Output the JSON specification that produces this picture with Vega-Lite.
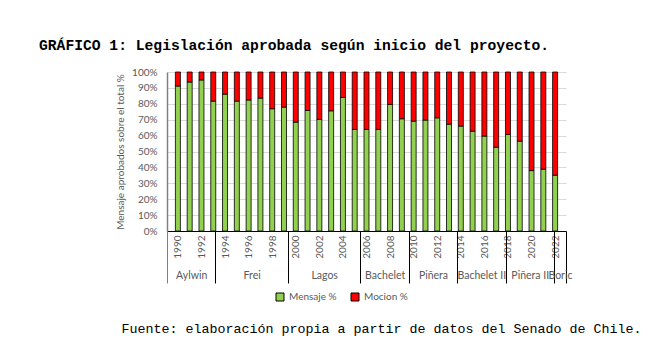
{
  "$schema": "https://vega.github.io/schema/vega-lite/v6.json",
  "width": 399,
  "height": 159,
  "autosize": {"type": "none"},
  "padding": {"left": 167, "top": 72, "right": 96, "bottom": 126},
  "background": "white",
  "config": {"view": {"stroke": null}, "font": "Lato"},
  "title": {
    "text": "GRÁFICO 1: Legislación aprobada según inicio del proyecto.",
    "anchor": "start",
    "frame": "group",
    "dx": -128,
    "font": "Liberation Mono",
    "fontSize": 14.67,
    "fontWeight": "bold",
    "color": "black",
    "offset": 14
  },
  "datasets": {
    "presidentes": [
      {"name": "Aylwin", "end": 1993.5, "mid": 1991.5},
      {"name": "Frei", "end": 1999.5, "mid": 1996.5},
      {"name": "Lagos", "end": 2005.5, "mid": 2002.5},
      {"name": "Bachelet", "end": 2009.5, "mid": 2007.5},
      {"name": "Piñera", "end": 2013.5, "mid": 2011.5},
      {"name": "Bachelet II", "end": 2017.5, "mid": 2015.5},
      {"name": "Piñera II", "end": 2021.5, "mid": 2019.5},
      {"name": "Boric", "end": 2022.5, "mid": 2022}
    ]
  },
  "layer": [
    {
      "data": {"values": [
        {"year": 1990, "Mensaje %": 91.2, "Mocion %": 8.8},
        {"year": 1991, "Mensaje %": 93.7, "Mocion %": 6.3},
        {"year": 1992, "Mensaje %": 95.0, "Mocion %": 5.0},
        {"year": 1993, "Mensaje %": 81.7, "Mocion %": 18.3},
        {"year": 1994, "Mensaje %": 86.1, "Mocion %": 13.9},
        {"year": 1995, "Mensaje %": 81.7, "Mocion %": 18.3},
        {"year": 1996, "Mensaje %": 82.4, "Mocion %": 17.6},
        {"year": 1997, "Mensaje %": 83.6, "Mocion %": 16.4},
        {"year": 1998, "Mensaje %": 76.9, "Mocion %": 23.1},
        {"year": 1999, "Mensaje %": 77.9, "Mocion %": 22.1},
        {"year": 2000, "Mensaje %": 68.5, "Mocion %": 31.5},
        {"year": 2001, "Mensaje %": 75.8, "Mocion %": 24.2},
        {"year": 2002, "Mensaje %": 70.2, "Mocion %": 29.8},
        {"year": 2003, "Mensaje %": 75.6, "Mocion %": 24.4},
        {"year": 2004, "Mensaje %": 84.0, "Mocion %": 16.0},
        {"year": 2005, "Mensaje %": 63.9, "Mocion %": 36.1},
        {"year": 2006, "Mensaje %": 63.9, "Mocion %": 36.1},
        {"year": 2007, "Mensaje %": 63.9, "Mocion %": 36.1},
        {"year": 2008, "Mensaje %": 79.6, "Mocion %": 20.4},
        {"year": 2009, "Mensaje %": 70.6, "Mocion %": 29.4},
        {"year": 2010, "Mensaje %": 69.1, "Mocion %": 30.9},
        {"year": 2011, "Mensaje %": 69.8, "Mocion %": 30.2},
        {"year": 2012, "Mensaje %": 71.2, "Mocion %": 28.8},
        {"year": 2013, "Mensaje %": 67.2, "Mocion %": 32.8},
        {"year": 2014, "Mensaje %": 66.0, "Mocion %": 34.0},
        {"year": 2015, "Mensaje %": 62.8, "Mocion %": 37.2},
        {"year": 2016, "Mensaje %": 59.7, "Mocion %": 40.3},
        {"year": 2017, "Mensaje %": 52.7, "Mocion %": 47.3},
        {"year": 2018, "Mensaje %": 60.7, "Mocion %": 39.3},
        {"year": 2019, "Mensaje %": 56.5, "Mocion %": 43.5},
        {"year": 2020, "Mensaje %": 38.0, "Mocion %": 62.0},
        {"year": 2021, "Mensaje %": 38.9, "Mocion %": 61.1},
        {"year": 2022, "Mensaje %": 35.1, "Mocion %": 64.9}
      ]},
      "transform": [{"fold": ["Mensaje %", "Mocion %"], "as": ["tipo", "pct"]}],
      "mark": {"type": "bar", "size": 5, "stroke": "black", "strokeWidth": 0.8},
      "encoding": {
        "x": {
          "field": "year", "type": "quantitative",
          "scale": {"domain": [1989.5, 2022.5], "nice": false, "zero": false},
          "axis": {
            "orient": "bottom",
            "values": [1990, 1992, 1994, 1996, 1998, 2000, 2002, 2004, 2006, 2008, 2010, 2012, 2014, 2016, 2018, 2020, 2022],
            "format": "d",
            "labelAngle": -90,
            "labelAlign": "right",
            "labelBaseline": "middle",
            "labelPadding": 4,
            "labelFont": "Lato",
            "labelFontSize": 10,
            "labelColor": "#595959",
            "labelOverlap": false,
            "labelFlush": false,
            "ticks": false,
            "grid": false,
            "domainColor": "black",
            "domainWidth": 1,
            "title": null
          }
        },
        "y": {
          "field": "pct", "type": "quantitative", "stack": "zero",
          "scale": {"domain": [0, 100], "nice": false},
          "axis": {
            "values": [0, 10, 20, 30, 40, 50, 60, 70, 80, 90, 100],
            "labelExpr": "datum.value + '%'",
            "labelFont": "Lato",
            "labelFontSize": 10,
            "labelColor": "#595959",
            "labelPadding": 10,
            "ticks": false,
            "grid": true,
            "gridColor": "#D9D9D9",
            "gridWidth": 1,
            "domainColor": "#808080",
            "domainWidth": 1.5,
            "title": "Mensaje aprobados sobre el total %",
            "titleFont": "Lato",
            "titleFontSize": 10,
            "titleFontWeight": "normal",
            "titleColor": "#595959",
            "titlePadding": 6
          }
        },
        "color": {
          "field": "tipo", "type": "nominal",
          "scale": {"domain": ["Mensaje %", "Mocion %"], "range": ["#92D050", "#FF0000"]},
          "legend": {
            "orient": "none",
            "legendX": 108,
            "legendY": 220,
            "direction": "horizontal",
            "title": null,
            "symbolType": "square",
            "symbolSize": 64,
            "symbolStrokeColor": "black",
            "symbolStrokeWidth": 1,
            "labelFont": "Lato",
            "labelFontSize": 10,
            "labelColor": "#595959",
            "columnPadding": 12
          }
        },
        "order": {"field": "tipo", "sort": "ascending"}
      }
    },
    {
      "data": {"name": "presidentes"},
      "mark": {"type": "point", "opacity": 0},
      "encoding": {
        "x": {
          "field": "end", "type": "quantitative",
          "scale": {"domain": [1989.5, 2022.5], "nice": false, "zero": false},
          "axis": {
            "orient": "bottom",
            "values": [1989.5, 1993.5, 1999.5, 2005.5, 2009.5, 2013.5, 2017.5, 2021.5, 2022.5],
            "labels": false,
            "ticks": true,
            "tickSize": 52,
            "tickWidth": 1,
            "tickColor": {"condition": {"test": "datum.value < 1990", "value": "#808080"}, "value": "black"},
            "domain": false,
            "grid": false,
            "title": null
          }
        }
      }
    },
    {
      "data": {"name": "presidentes"},
      "mark": {"type": "point", "opacity": 0},
      "encoding": {
        "x": {
          "field": "mid", "type": "quantitative",
          "scale": {"domain": [1989.5, 2022.5], "nice": false, "zero": false},
          "axis": {
            "orient": "bottom",
            "values": [1991.5, 1996.5, 2002.5, 2007.5, 2011.5, 2015.5, 2019.5, 2022],
            "labelExpr": "({'1991.5':'Aylwin','1996.5':'Frei','2002.5':'Lagos','2007.5':'Bachelet','2011.5':'Piñera','2015.5':'Bachelet II','2019.5':'Piñera II','2022':'Boric'})[datum.value]",
            "labelFont": "Lato",
            "labelFontSize": 10.5,
            "labelColor": "#595959",
            "labelPadding": 39,
            "labelOverlap": false,
            "labelFlush": false,
            "labelAngle": 0,
            "ticks": false,
            "domain": false,
            "grid": false,
            "title": "Fuente: elaboración propia a partir de datos del Senado de Chile.",
            "titleFont": "Liberation Mono",
            "titleFontSize": 13.33,
            "titleFontWeight": "normal",
            "titleColor": "black",
            "titleX": -46,
            "titleY": 101,
            "titleAlign": "left",
            "titleBaseline": "alphabetic"
          }
        }
      }
    }
  ],
  "resolve": {"scale": {"x": "independent"}, "axis": {"x": "independent"}}
}
